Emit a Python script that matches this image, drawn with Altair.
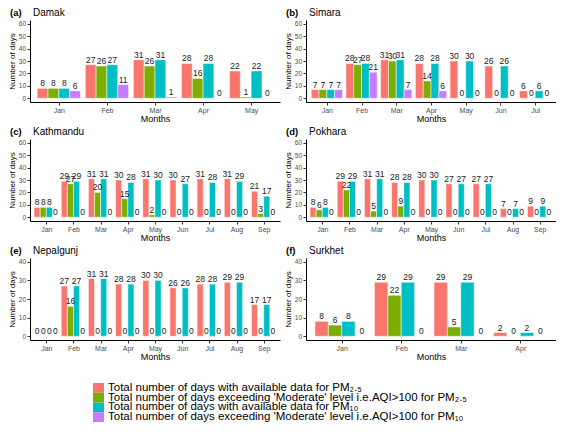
import altair as alt
import pandas as pd

FONT = "Liberation Sans"

series = [
    "Total number of days with available data for PM₂.₅",
    "Total number of days exceeding 'Moderate' level i.e.AQI>100 for PM₂.₅",
    "Total number of days with available data for PM₁₀",
    "Total number of days exceeding 'Moderate' level i.e.AQI>100 for PM₁₀",
]
colors = ["#F8766D", "#7CAE00", "#00BFC4", "#C77CFF"]

# (a) Damak
damak_months = ["Jan", "Feb", "Mar", "Apr", "May"]
damak_pm25_avail = [8, 27, 31, 28, 22]
damak_pm25_exceed = [8, 26, 26, 16, 1]
damak_pm10_avail = [8, 27, 31, 28, 22]
damak_pm10_exceed = [6, 11, 1, 0, 0]

# (b) Simara
simara_months = ["Jan", "Feb", "Mar", "Apr", "May", "Jun", "Jul"]
simara_pm25_avail = [7, 28, 31, 28, 30, 26, 6]
simara_pm25_exceed = [7, 27, 30, 14, 0, 0, 0]
simara_pm10_avail = [7, 28, 31, 28, 30, 26, 6]
simara_pm10_exceed = [7, 21, 7, 6, 0, 0, 0]

# (c) Kathmandu
ktm_months = ["Jan", "Feb", "Mar", "Apr", "May", "Jun", "Jul", "Aug", "Sep"]
ktm_pm25_avail = [8, 29, 31, 30, 31, 30, 31, 31, 21]
ktm_pm25_exceed = [8, 27, 20, 15, 2, 0, 0, 0, 3]
ktm_pm10_avail = [8, 29, 31, 28, 30, 27, 28, 29, 17]
ktm_pm10_exceed = [0, 0, 0, 0, 0, 0, 0, 0, 0]

# (d) Pokhara
pok_months = ["Jan", "Feb", "Mar", "Apr", "May", "Jun", "Jul", "Aug", "Sep"]
pok_pm25_avail = [8, 29, 31, 28, 30, 27, 27, 7, 9]
pok_pm25_exceed = [6, 22, 5, 9, 0, 0, 0, 0, 0]
pok_pm10_avail = [8, 29, 31, 28, 30, 27, 27, 7, 9]
pok_pm10_exceed = [0, 0, 0, 0, 0, 0, 0, 0, 0]

# (e) Nepalgunj
npj_months = ["Jan", "Feb", "Mar", "Apr", "May", "Jun", "Jul", "Aug", "Sep"]
npj_pm25_avail = [0, 27, 31, 28, 30, 26, 28, 29, 17]
npj_pm25_exceed = [0, 16, 0, 0, 0, 0, 0, 0, 0]
npj_pm10_avail = [0, 27, 31, 28, 30, 26, 28, 29, 17]
npj_pm10_exceed = [0, 0, 0, 0, 0, 0, 0, 0, 0]

# (f) Surkhet
sur_months = ["Jan", "Feb", "Mar", "Apr"]
sur_pm25_avail = [8, 29, 29, 2]
sur_pm25_exceed = [6, 22, 5, 0]
sur_pm10_avail = [8, 29, 29, 2]
sur_pm10_exceed = [0, 0, 0, 0]

W = 250
H = 82
DODGE = 0.9  # total dodge width per month group (as in ggplot position_dodge(0.9))

color_scale = alt.Scale(domain=series, range=colors)


def panel(tag, name, months, vals, ymax):
    rows = []
    for si, (s, v) in enumerate(zip(series, vals)):
        for mi, d in enumerate(v):
            rows.append({"mi": mi + 1, "si": si, "Series": s, "Days": d})
    df = pd.DataFrame(rows)
    n = len(months)
    bw = DODGE / len(series)
    label_expr = "[" + ",".join("'%s'" % m for m in months) + "][datum.value - 1]"
    xaxis = alt.Axis(title="Months", values=list(range(1, n + 1)), labelExpr=label_expr,
                     labelAngle=0, labelFontSize=7, labelColor="#4D4D4D",
                     titleFontSize=9, titleFontWeight="normal", titleColor="#000",
                     tickSize=3, tickColor="#333", domainColor="#000", labelPadding=1.5,
                     titlePadding=1, grid=False, labelOverlap=False, labelFlush=False)
    xscale = alt.Scale(domain=[0.4, n + 0.6], nice=False, zero=False)
    lo, hi = -ymax * 0.05, ymax * 1.05
    y = alt.Y(
        "Days:Q",
        scale=alt.Scale(domain=[lo, hi], nice=False),
        axis=alt.Axis(title="Number of days", values=list(range(0, ymax + 1, 10)),
                      labelFontSize=6.5, labelColor="#4D4D4D", titleFontSize=8,
                      titleFontWeight="normal", titleColor="#000", tickSize=3,
                      tickColor="#333", domainColor="#000", labelPadding=1.5,
                      titlePadding=2, grid=False, labelOverlap=False, labelFlush=False),
    )
    base = alt.Chart(df).transform_calculate(
        xs="datum.mi - %f + datum.si * %f" % (DODGE / 2, bw),
    ).transform_calculate(
        xe="datum.xs + %f" % bw,
        xm="datum.xs + %f" % (bw / 2),
    )
    bars = base.mark_bar(stroke="white", strokeWidth=0.5).encode(
        x=alt.X("xs:Q", scale=xscale, axis=xaxis),
        x2="xe:Q",
        y=y,
        y2=alt.datum(0),
        color=alt.Color("Series:N", scale=color_scale, legend=None),
    )
    labels = base.mark_text(baseline="bottom", fontSize=8.5, color="#222", font=FONT).encode(
        x=alt.X("xm:Q", scale=xscale, axis=xaxis),
        y=y,
        text="Days:Q",
    )
    tagdf = pd.DataFrame({"tag": [tag], "name": [name]})
    tag_mark = alt.Chart(tagdf).mark_text(
        align="left", baseline="alphabetic", fontSize=9.5, fontWeight="bold", font=FONT, color="#000"
    ).encode(x=alt.value(-20), y=alt.value(-4), text="tag:N")
    name_mark = alt.Chart(tagdf).mark_text(
        align="left", baseline="alphabetic", fontSize=10, font=FONT, color="#000"
    ).encode(x=alt.value(3), y=alt.value(-4), text="name:N")
    return alt.layer(bars, labels, tag_mark, name_mark).properties(width=W, height=H)


pa = panel("(a)", "Damak", damak_months,
           [damak_pm25_avail, damak_pm25_exceed, damak_pm10_avail, damak_pm10_exceed], 60)
pb = panel("(b)", "Simara", simara_months,
           [simara_pm25_avail, simara_pm25_exceed, simara_pm10_avail, simara_pm10_exceed], 60)
pc = panel("(c)", "Kathmandu", ktm_months,
           [ktm_pm25_avail, ktm_pm25_exceed, ktm_pm10_avail, ktm_pm10_exceed], 60)
pd_ = panel("(d)", "Pokhara", pok_months,
            [pok_pm25_avail, pok_pm25_exceed, pok_pm10_avail, pok_pm10_exceed], 60)
pe = panel("(e)", "Nepalgunj", npj_months,
           [npj_pm25_avail, npj_pm25_exceed, npj_pm10_avail, npj_pm10_exceed], 40)
pf = panel("(f)", "Surkhet", sur_months,
           [sur_pm25_avail, sur_pm25_exceed, sur_pm10_avail, sur_pm10_exceed], 40)

# legend drawn as its own small chart
leg_df = pd.DataFrame({"Series": series})
leg_y = alt.Y("Series:N", sort=series, axis=None,
              scale=alt.Scale(paddingInner=0, paddingOuter=0, range=[18, 57]))
leg_rect = alt.Chart(leg_df).mark_bar().encode(
    y=leg_y, x=alt.value(63), x2=alt.value(74),
    color=alt.Color("Series:N", scale=color_scale, legend=None),
)
leg_text = alt.Chart(leg_df).mark_text(
    align="left", baseline="middle", fontSize=11.5, font=FONT, color="#000"
).encode(y=leg_y, x=alt.value(78), text="Series:N")
legend_chart = alt.layer(leg_rect, leg_text).properties(width=490, height=57)


def row(l, r):
    return alt.hconcat(l, r, spacing=4).resolve_scale(x="independent", y="independent")


chart = alt.vconcat(row(pa, pb), row(pc, pd_), row(pe, pf), legend_chart, spacing=3).resolve_scale(
    x="independent", y="independent"
).properties(
    padding={"top": 0, "left": 0, "right": 0, "bottom": 0}
).configure(font=FONT).configure_view(stroke="transparent", strokeWidth=0)

chart.save("out.html", embed_options={"renderer": "svg", "actions": False})
